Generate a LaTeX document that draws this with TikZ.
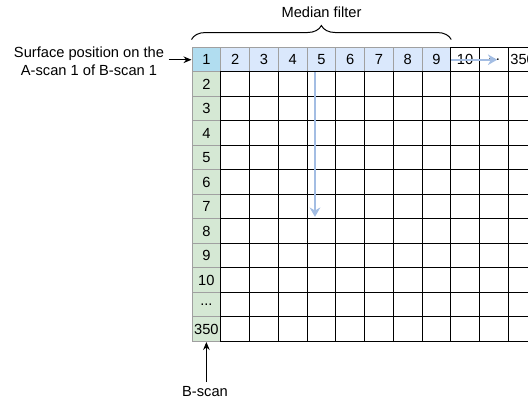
\documentclass[tikz,border=0pt]{standalone}
\usepackage{fontspec}
\setmainfont{Liberation Sans}
\usetikzlibrary{arrows.meta,positioning,decorations.pathreplacing}

\definecolor{ascanfill}{HTML}{DAE8FC}
\definecolor{surffill}{HTML}{B1DDF0}
\definecolor{bscanfill}{HTML}{D5E8D4}
\definecolor{softline}{HTML}{A0A0A0}
\definecolor{filterblue}{HTML}{A3BDE3}
\newcommand{\skipcells}{...}

\begin{document}
\begin{tikzpicture}[x=0.75pt,y=-0.75pt,
 font=\fontsize{11}{13.5}\selectfont,
 cell/.style={rectangle,draw=black,line width=0.75pt,inner sep=0pt,
              minimum width=21.5625pt,minimum height=18.375pt},
 ascan/.style={cell,fill=ascanfill,draw=softline},
 surf/.style={cell,fill=surffill,draw=softline},
 bscan/.style={cell,fill=bscanfill,draw=softline},
 arrow/.style={-{Stealth[length=6pt,width=5pt]},line width=0.75pt,draw=black},
 filterarrow/.style={-{Stealth[length=7pt,width=8pt]},line width=1.5pt,draw=filterblue}
]
\useasboundingbox (0,0) rectangle (528,402);
\clip (0,0) rectangle (528,402);
% B-scan column
\foreach \r/\lab in {2/2,3/3,4/4,5/5,6/6,7/7,8/8,9/9,10/10,11/\skipcells,12/350}
  \node[bscan] (c-\r-1) at (206.375,{47.5+24.5*(\r-0.5)}) {\lab};
% A-scan row
\node[surf] (c-1-1) at (206.375,59.75) {1};
\foreach \c in {2,...,9}
  \node[ascan] (c-1-\c) at ({192+28.75*(\c-0.5)},59.75) {\c};
\foreach \c/\lab in {10/10,11/\skipcells,12/350}
  \node[cell] (c-1-\c) at ({192+28.75*(\c-0.5)},59.75) {\lab};
% empty cells
\foreach \r in {2,...,12}
  \foreach \c in {2,...,12}
    \node[cell] (c-\r-\c) at ({192+28.75*(\c-0.5)},{47.5+24.5*(\r-0.5)}) {};
% filter window
\draw[line width=0.75pt,decorate,decoration={brace,amplitude=10.5pt}]
  ([yshift=5.6pt]c-1-1.north west) -- ([yshift=5.6pt]c-1-9.north east);
\node (median) at (321.5,12) {Median filter};
\node[align=center] (surface) at (89,61) {Surface position on the\\A-scan 1 of B-scan 1};
\node (bscanlabel) at (205,392) {B-scan};
\draw[arrow] (surface.east |- c-1-1.west) -- (c-1-1.west);
\draw[arrow] (bscanlabel.north -| c-12-1.south) -- (c-12-1.south);
\draw[filterarrow] ([xshift=-4.8pt]c-1-5.south) -- ([xshift=-4.8pt,yshift=2pt]c-7-5.south);
\draw[filterarrow] (c-1-9.east) -- ([xshift=2.5pt]c-1-11.center);
\end{tikzpicture}
\end{document}
